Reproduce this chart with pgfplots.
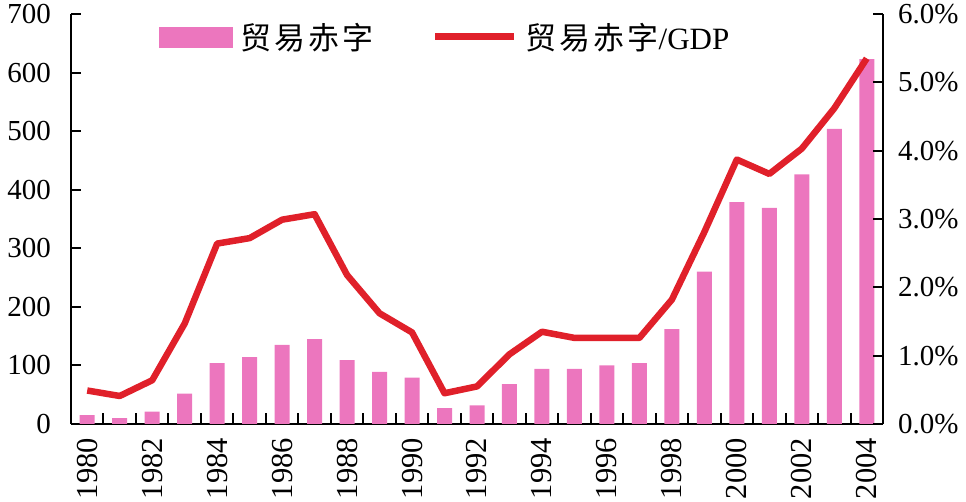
\documentclass[border=0pt]{standalone}
\usepackage{pgfplots}
\pgfplotsset{compat=1.18}
\usepackage{fontspec}
\setmainfont{Liberation Serif}
\newfontfamily\cjk[LetterSpace=10]{Noto Sans CJK SC}
\definecolor{barpink}{RGB}{236,118,190}
\definecolor{lred}{RGB}{224,32,42}
\begin{document}
\begin{tikzpicture}
\pgfplotsset{
  common/.style={
    scale only axis, width=812pt, height=410pt,
    xmin=-0.5, xmax=24.5,
    tick align=inside,
    major tick length=10pt,
    every tick/.style={black, line width=2pt},
    axis line style={black, line width=2.5pt},
    /pgf/number format/assume math mode=true,
  }
}
\begin{axis}[common,
  ymin=0, ymax=700,
  axis y line*=left, axis x line*=bottom,
  ytick={0,100,...,700},
  yticklabel style={font=\fontsize{29}{29}\selectfont, anchor=east, inner sep=0pt},
  yticklabel shift=20pt,
  xtick={0,2,...,24},
  xticklabels={1980,1982,1984,1986,1988,1990,1992,1994,1996,1998,2000,2002,2004},
  major x tick style={draw=none},
  minor xtick={0.5,1.5,...,23.5},
  minor tick length=11pt,
  minor x tick style={black, line width=2pt},
  xticklabel style={font=\fontsize{30.5}{30.5}\selectfont, rotate=90, anchor=east, inner sep=0pt},
  xticklabel shift=14pt,
]
\addplot[ybar, bar width=15pt, fill=barpink, draw=none] coordinates {
(0,15) (1,10) (2,21) (3,52) (4,104) (5,114) (6,135) (7,145) (8,109) (9,89)
(10,79) (11,27) (12,32) (13,68) (14,94) (15,94) (16,100) (17,104) (18,162)
(19,260) (20,379) (21,369) (22,426) (23,504) (24,623)
};
\end{axis}
\begin{axis}[common,
  ymin=0, ymax=6,
  axis y line*=right, axis x line=none,
  ytick={0,1,...,6},
  yticklabel={\pgfmathprintnumber[fixed,fixed zerofill,precision=1]{\tick}\%},
  yticklabel style={font=\fontsize{29}{29}\selectfont, anchor=west, inner sep=0pt},
  yticklabel shift=15pt,
  legend columns=2,
  legend style={at={(axis description cs:0.1084,0.9446)}, anchor=west,
    draw=none, fill=none, inner sep=0pt,
    font=\fontsize{31}{31}\selectfont,
    nodes={inner sep=0pt},
    /tikz/every odd column/.append style={column sep=8pt},
    /tikz/every even column/.append style={column sep=58pt}},
]
\addlegendimage{legend image code/.code={\fill[barpink] (0pt,-10pt) rectangle (73pt,10pt);}}
\addlegendentry{{\cjk 贸易赤字}}
\addplot[lred, line width=6.5pt, line join=round,
  legend image code/.code={\draw[lred, line width=6.5pt] (0pt,0pt) -- (79pt,0pt);}] coordinates {
(0,0.49) (1,0.41) (2,0.64) (3,1.47) (4,2.64) (5,2.72) (6,2.99) (7,3.07) (8,2.18) (9,1.62)
(10,1.34) (11,0.45) (12,0.55) (13,1.02) (14,1.35) (15,1.26) (16,1.26) (17,1.26) (18,1.82)
(19,2.81) (20,3.87) (21,3.66) (22,4.03) (23,4.62) (24,5.35)
};
\addlegendentry{{\cjk 贸易赤字}/GDP}
\end{axis}
\pgfresetboundingbox
\path (-71pt,-78pt) rectangle (895pt,424pt);
\end{tikzpicture}
\end{document}
